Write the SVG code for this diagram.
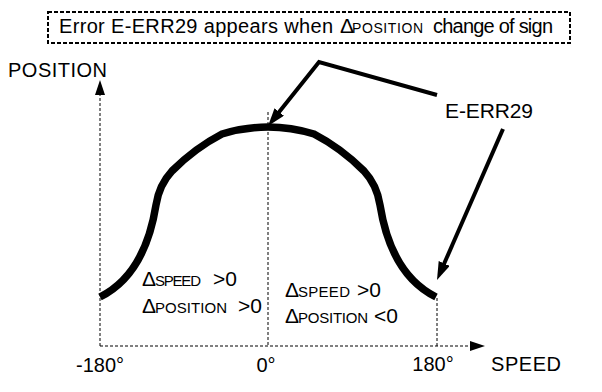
<svg xmlns="http://www.w3.org/2000/svg" width="602" height="392" viewBox="0 0 602 392">
<style>
text{font-family:"Liberation Sans",Arial,sans-serif;fill:#000}
.dot{fill:none;stroke:#000;stroke-width:1;stroke-dasharray:3,2}
.thick{fill:none;stroke:#000;stroke-width:4}
</style>
<defs>
<marker id="ah" markerUnits="userSpaceOnUse" markerWidth="20" markerHeight="14" refX="6" refY="6" orient="auto"><path d="M0,0 L18,6 L0,12 z" fill="#000"/></marker>
<marker id="axh" markerUnits="userSpaceOnUse" markerWidth="16" markerHeight="12" refX="1" refY="5" orient="auto"><path d="M0,0 L15,5 L0,10 z" fill="#000"/></marker>
</defs>
<g id="title">
<rect x="48" y="12" width="522" height="31" fill="none" stroke="#000" stroke-width="2" stroke-dasharray="4,2"/>
<text y="33" font-size="20"><tspan x="59" textLength="274" lengthAdjust="spacing">Error E-ERR29 appears when</tspan><tspan x="340" font-size="21">Δ</tspan><tspan x="352" font-size="14" textLength="71" lengthAdjust="spacing">POSITION</tspan><tspan x="433" textLength="120" lengthAdjust="spacing">change of sign</tspan></text>
</g>
<g id="axes">
<line class="dot" x1="100" y1="346" x2="100" y2="94" marker-end="url(#axh)"/>
<line class="dot" x1="100" y1="346" x2="471" y2="346" marker-end="url(#axh)"/>
<line class="dot" x1="268" y1="112" x2="268" y2="346"/>
<line class="dot" x1="437" y1="298" x2="437" y2="346"/>
<text x="8" y="77" font-size="20" textLength="99" lengthAdjust="spacing">POSITION</text>
<text x="491" y="371" font-size="20" textLength="70" lengthAdjust="spacing">SPEED</text>
<text x="100" y="372" font-size="20" text-anchor="middle">-180°</text>
<text x="266" y="372" font-size="20" text-anchor="middle">0°</text>
<text x="433" y="371" font-size="20" text-anchor="middle">180°</text>
</g>
<g id="curve">
<path d="M100,297 C128,283 148,255 156,205 Q159,185 172,171 Q195,148 222,134 Q245,127 268,127 Q291,127 314,134 Q341,148 364,171 Q377,185 380,205 C388,255 408,283 436,297" fill="none" stroke="#000" stroke-width="7.5"/>
</g>
<g id="label-left">
<text y="286"><tspan x="142" font-size="21">Δ</tspan><tspan x="155" font-size="15" textLength="46" lengthAdjust="spacing">SPEED</tspan><tspan x="213" font-size="21">&gt;0</tspan></text>
<text y="313"><tspan x="142" font-size="21">Δ</tspan><tspan x="155" font-size="15" textLength="72" lengthAdjust="spacing">POSITION</tspan><tspan x="238" font-size="21">&gt;0</tspan></text>
</g>
<g id="label-right">
<text y="297"><tspan x="285" font-size="21">Δ</tspan><tspan x="298" font-size="15" textLength="52" lengthAdjust="spacing">SPEED</tspan><tspan x="357" font-size="21">&gt;0</tspan></text>
<text y="323"><tspan x="285" font-size="21">Δ</tspan><tspan x="298" font-size="15" textLength="70" lengthAdjust="spacing">POSITION</tspan><tspan x="374" font-size="21">&lt;0</tspan></text>
</g>
<g id="callout">
<text x="445" y="118" font-size="21" textLength="88" lengthAdjust="spacing">E-ERR29</text>
</g>
<g id="connectors">
<polyline class="thick" points="437,95 319,62 275.5,116.6" marker-end="url(#ah)"/>
<line class="thick" x1="503" y1="129" x2="441.8" y2="269" marker-end="url(#ah)"/>
</g>
</svg>
